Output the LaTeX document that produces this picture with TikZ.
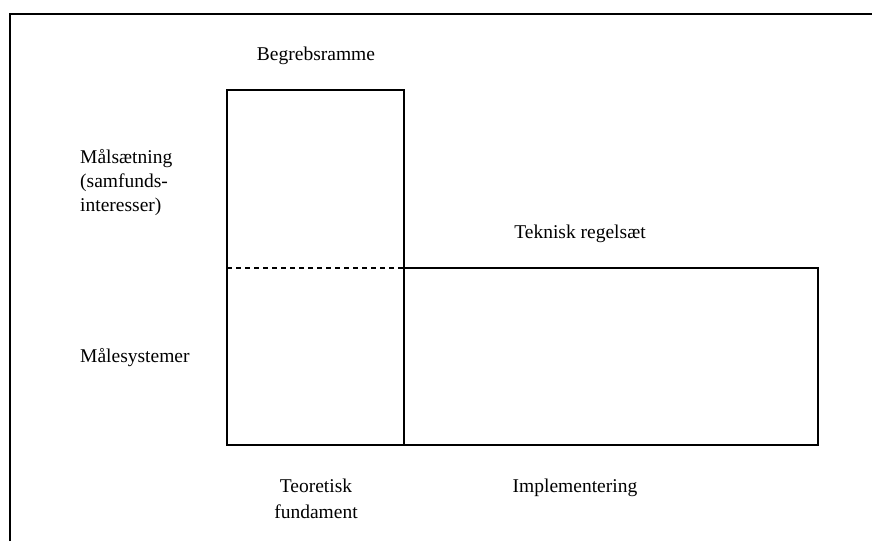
\documentclass[tikz,border=0pt]{standalone}
\usepackage{fontspec}
\setmainfont{Liberation Serif}
\begin{document}
\begin{tikzpicture}[x=1pt,y=-1pt,
  lbl/.style={font=\fontsize{19.5}{26}\selectfont, inner sep=0pt},
  boxline/.style={line width=2.4pt},
  dashline/.style={line width=2.6pt, dash pattern=on 5pt off 4pt}]
\useasboundingbox (0,0) rectangle (872,541);
\draw[line width=2.6pt] (10,541) -- (10,14) -- (872,14);
% boxes
\coordinate (a1) at (227,90);
\coordinate (a2) at (404,445);
\coordinate (b1) at (404,268);
\coordinate (b2) at (818,445);
\coordinate (d1) at (227,268);
\draw[boxline] (a1) rectangle (a2);
\draw[boxline] (b1) rectangle (b2);
\draw[dashline] (d1) -- (b1);
% labels
\node[lbl, anchor=base] (begreb) at (316,60) {Begrebsramme};
\node[lbl, anchor=base west] (maal1) at (80,163) {Målsætning};
\node[lbl, anchor=base west] (maal2) at (80,187) {(samfunds-};
\node[lbl, anchor=base west] (maal3) at (80,211) {interesser)};
\node[lbl, anchor=base west] (maale) at (80,362) {Målesystemer};
\node[lbl, anchor=base] (tekn) at (580,238) {Teknisk regelsæt};
\node[lbl, anchor=base] (teo1) at (316,492) {Teoretisk};
\node[lbl, anchor=base] (teo2) at (316,518) {fundament};
\node[lbl, anchor=base] (impl) at (575,492) {Implementering};
\end{tikzpicture}
\end{document}
